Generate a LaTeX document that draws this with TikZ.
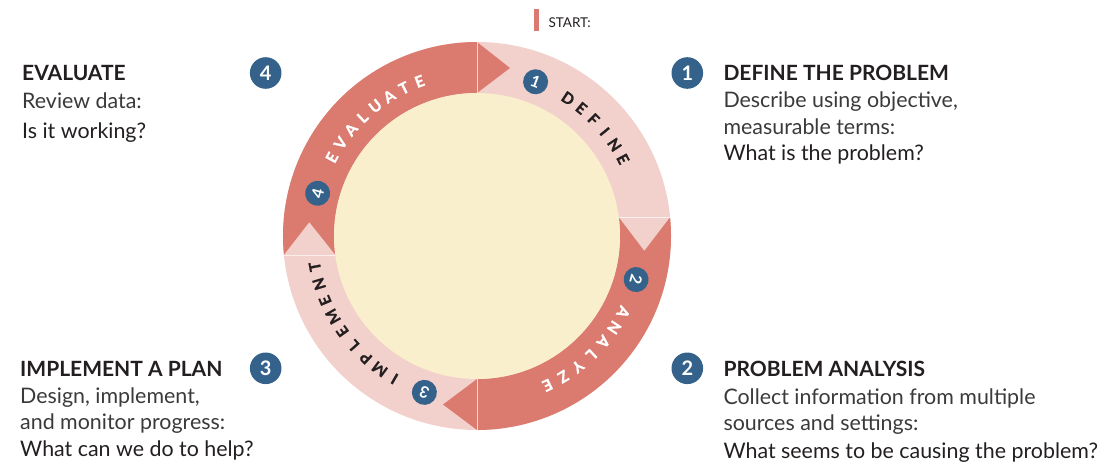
\documentclass[tikz,border=0pt]{standalone}
\usepackage{fontspec}
\setmainfont{Lato}
\newfontfamily\heavyfont{Lato}[BoldFeatures={FakeBold=1.3}]
\definecolor{salmon}{HTML}{DB7B6F}
\definecolor{blush}{HTML}{F2D0CB}
\definecolor{cream}{HTML}{FAEFCC}
\definecolor{stepblue}{HTML}{34628A}
\definecolor{ink}{HTML}{231F20}
\definecolor{grayink}{HTML}{3A3A3A}
\begin{document}
\begin{tikzpicture}[x=1pt,y=1pt]
\tikzstyle{head text}=[font=\fontsize{21}{21}\selectfont\bfseries,text=ink,anchor=base west,inner sep=0]
\tikzstyle{body text}=[font=\fontsize{21.4}{21.4}\selectfont,text=grayink,anchor=base west,inner sep=0]
\tikzset{
	big num/.style={circle,fill=stepblue,text=white,minimum size=31.6pt,inner sep=0,font=\fontsize{20}{20}\selectfont\bfseries},
	ring num/.style={circle,fill=stepblue,text=white,minimum size=25pt,inner sep=0,font=\fontsize{16}{16}\selectfont\bfseries},
	ring letter/.style={inner sep=0,font=\fontsize{15.5}{15.5}\heavyfont\bfseries}
}
\useasboundingbox (-477,-233) rectangle (630,236);
% ring
\fill[blush] (0,0) circle[radius=194pt];
\fill[salmon] (-141.73,-19) -- (-193.07,-19) arc[start angle=185.62,end angle=90,radius=194pt] -- (33,168) -- (0,143) arc[start angle=90,end angle=187.64,radius=143pt] -- cycle;
\fill[salmon] (141.73,19) -- (193.07,19) arc[start angle=5.62,end angle=-90,radius=194pt] -- (-34,-168.5) -- (0,-143) arc[start angle=-90,end angle=7.64,radius=143pt] -- cycle;
\fill[blush] (141.73,19) -- (193.07,19) -- (167.3,-14.7) -- cycle;
\fill[blush] (-141.73,-19) -- (-193.07,-19) -- (-167.7,13.7) -- cycle;
\draw[white,line width=0.6pt,opacity=0.7] (0,143) -- (0,194) (0,-143) -- (0,-194) (141.73,19) -- (193.07,19) (-141.73,-19) -- (-193.07,-19);
\fill[cream] (0,0) circle[radius=143pt];
% numbers on the ring
\node[ring num,rotate=-20.8] (r1) at (69.2:165pt) {1};
\node[ring num,rotate=-105.3] (r2) at (-15.3:165pt) {2};
\node[ring num,rotate=161.4] (r3) at (-108.6:165pt) {3};
\node[ring num,rotate=75] (r4) at (165:165pt) {4};
% words on the ring
\foreach \ch [count=\i] in {D,E,F,I,N,E}
	\node[ring letter,text=ink,rotate=56.5-(\i-1)*5.74-90] (dl\i) at ({56.5-(\i-1)*5.74}:165pt) {\ch};
\foreach \ch [count=\i] in {A,N,A,L,Y,Z,E}
	\node[ring letter,text=white,rotate=-27.5-(\i-1)*6.2-90] (al\i) at ({-27.5-(\i-1)*6.2}:165pt) {\ch};
\foreach \ch [count=\i] in {I,M,P,L,E,M,E,N,T}
	\node[ring letter,text=ink,rotate=-120-(\i-1)*6.16-90] (il\i) at ({-120-(\i-1)*6.16}:165pt) {\ch};
\foreach \ch [count=\i] in {E,V,A,L,U,A,T,E}
	\node[ring letter,text=white,rotate=151.6-(\i-1)*5.89-90] (el\i) at ({151.6-(\i-1)*5.89}:165pt) {\ch};
% start mark
\fill[salmon] (57,205.3) rectangle (62.3,227);
\node[body text,text=ink,font=\fontsize{13.5}{13.5}\selectfont] (start) at (71.3,208.7) {START:};
% step numbers
\node[big num] (n1) at (210.3,163) {1};
\node[big num] (n2) at (210.3,-132.3) {2};
\node[big num] (n3) at (-211.3,-132.3) {3};
\node[big num] (n4) at (-211.3,163) {4};
% step texts
\node[head text] (evalhead) at (-455,156) {EVALUATE};
\node[body text] (eval1) at (-455,127.7) {Review data:};
\node[body text,text=ink] (eval2) at (-455,97.7) {Is it working?};

\node[head text] (defhead) at (246.3,155.3) {DEFINE THE PROBLEM};
\node[body text] (def1) at (246.3,128.7) {Describe using objective,};
\node[body text] (def2) at (246.3,101.7) {measurable terms:};
\node[body text,text=ink] (def3) at (246.3,76) {What is the problem?};

\node[head text] (implhead) at (-457,-140) {IMPLEMENT A PLAN};
\node[body text] (impl1) at (-457,-167.3) {Design, implement,};
\node[body text] (impl2) at (-457,-193.3) {and monitor progress:};
\node[body text,text=ink] (impl3) at (-457,-220.7) {What can we do to help?};

\node[head text] (anhead) at (246.3,-140) {PROBLEM ANALYSIS};
\node[body text] (an1) at (246.3,-168) {Collect information from multiple};
\node[body text] (an2) at (246.3,-194.7) {sources and settings:};
\node[body text,text=ink] (an3) at (246.3,-222.3) {What seems to be causing the problem?};
\end{tikzpicture}
\end{document}
